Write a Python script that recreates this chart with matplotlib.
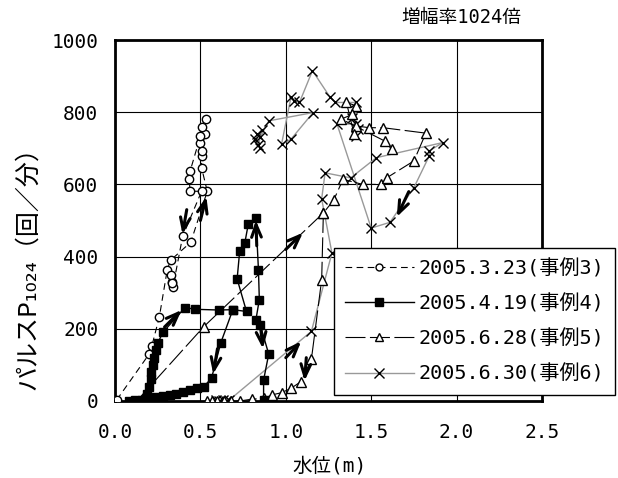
import matplotlib
matplotlib.use("Agg")
import matplotlib.pyplot as plt
from matplotlib.lines import Line2D

plt.rcParams["font.family"] = ["DejaVu Sans Mono", "Noto Sans CJK JP", "DejaVu Sans"]

# --- 2005.3.23 (事例3) ---
c_x = [0.01, 0.20, 0.215, 0.26, 0.306, 0.326, 0.444, 0.54, 0.507, 0.507, 0.497,
       0.507, 0.526, 0.53, 0.51, 0.50, 0.44, 0.434, 0.44, 0.507, 0.396, 0.34,
       0.331, 0.326, 0.335]
c_y = [3, 130, 151, 234, 364, 390, 440, 581, 646, 679, 716,
       693, 739, 782, 760, 734, 637, 614, 581, 581, 456, 317,
       331, 350, 327]

# --- 2005.4.19 (事例4) ---
s1_x = [0.18, 0.19, 0.20, 0.21, 0.21, 0.22, 0.23, 0.24, 0.25, 0.28, 0.41, 0.47,
        0.61, 0.69, 0.62, 0.565, 0.52, 0.48, 0.44, 0.40, 0.36, 0.32, 0.28,
        0.24, 0.20, 0.16, 0.12, 0.08]
s1_y = [5, 20, 40, 60, 80, 100, 120, 140, 160, 190, 259, 254,
        252, 253, 162, 63, 40, 35, 30, 25, 20, 16, 13,
        10, 7, 4, 2, 0]
s2_x = [0.69, 0.77, 0.715, 0.73, 0.76, 0.78, 0.825, 0.84, 0.845, 0.825, 0.85,
        0.90, 0.87, 0.87]
s2_y = [253, 248, 338, 415, 438, 489, 507, 362, 281, 225, 211,
        130, 58, 4]

# --- 2005.6.28 (事例5) ---
t1_x = [0.127, 0.52, 1.22, 1.28, 1.335, 1.45, 1.56, 1.59, 1.75, 1.82, 1.57,
        1.49, 1.41, 1.40, 1.355, 1.41, 1.39, 1.325, 1.58, 1.62]
t1_y = [0, 206, 521, 556, 614, 600, 600, 618, 665, 742, 757,
        757, 762, 739, 827, 818, 794, 781, 720, 697]
t2_x = [1.22, 1.21, 1.15, 1.09, 1.03, 0.975, 0.92, 0.87, 0.80, 0.73, 0.68,
        0.64, 0.60, 0.57, 0.54]
t2_y = [521, 336, 116, 54, 35, 23, 17, 7, 5, 0, 0,
        0, 0, 0, 0]

# --- 2005.6.30 (事例6) ---
x_x = [0.59, 0.61, 0.63, 0.65, 0.67, 1.15, 1.27, 1.21, 1.23, 1.38, 1.53, 1.92,
       1.84, 1.84, 1.75, 1.61, 1.50, 1.30, 1.41, 1.39, 1.42, 1.41, 1.41, 1.29,
       1.26, 1.156, 1.08, 1.05, 1.03, 0.975, 1.03, 1.16, 0.90, 0.85, 0.83,
       0.84, 0.86, 0.82, 0.85]
x_y = [2, 0, 2, 0, 3, 193, 410, 560, 632, 618, 674, 716,
       693, 679, 591, 495, 479, 767, 767, 785, 753, 734, 827, 827,
       841, 915, 827, 831, 841, 711, 725, 799, 776, 730, 739,
       710, 750, 725, 700]

# direction arrows (tail -> head)
arrows = [
    ((0.42, 530), (0.395, 462)),
    ((0.50, 500), (0.535, 566)),
    ((0.29, 205), (0.39, 252)),
    ((0.83, 430), (0.825, 500)),
    ((0.85, 215), (0.866, 145)),
    ((0.60, 145), (0.575, 75)),
    ((1.00, 420), (1.10, 466)),
    ((1.00, 120), (1.09, 165)),
    ((1.12, 120), (1.11, 56)),
    ((1.72, 580), (1.65, 510)),
]

labels = ["2005.3.23(事例3)", "2005.4.19(事例4)", "2005.6.28(事例5)", "2005.6.30(事例6)"]

fig = plt.figure(figsize=(6.18, 4.78), dpi=100)
ax = fig.add_axes([115 / 618, 77 / 478, 427 / 618, 361 / 478])

ax.plot(c_x, c_y, color="black", lw=0.8, ls=(0, (6, 4)), marker="o", ms=6,
        mfc="white", mec="black", mew=1.0, zorder=4)
for xs, ys in [(s1_x, s1_y), (s2_x, s2_y)]:
    ax.plot(xs, ys, color="black", lw=1.0, marker="s", ms=6,
            mfc="black", mec="black", zorder=5)
for xs, ys in [(t1_x, t1_y), (t2_x, t2_y)]:
    ax.plot(xs, ys, color="black", lw=0.8, ls=(0, (18, 4)), marker="^", ms=7,
            mfc="white", mec="black", mew=1.0, zorder=3)
ax.plot(x_x, x_y, color="#999999", lw=1.0, marker="x", ms=7,
        mec="black", mew=1.0, zorder=2)

for tail, head in arrows:
    ax.annotate("", xy=head, xytext=tail,
                arrowprops=dict(arrowstyle="->,head_length=0.9,head_width=0.35",
                                lw=2.2, color="black", shrinkA=0, shrinkB=0),
                zorder=6)

ax.set_xlim(0, 2.5)
ax.set_ylim(0, 1000)
ax.set_xticks([0, 0.5, 1.0, 1.5, 2.0, 2.5])
ax.set_xticklabels(["0.0", "0.5", "1.0", "1.5", "2.0", "2.5"])
ax.set_yticks([0, 200, 400, 600, 800, 1000])
ax.tick_params(length=0, labelsize=14)
ax.tick_params(axis="x", pad=16)
ax.tick_params(axis="y", pad=12)
ax.grid(True, color="black", lw=0.8)
ax.set_axisbelow(True)
for sp in ax.spines.values():
    sp.set_linewidth(2.0)

handles = [
    Line2D([], [], color="black", lw=0.8, ls=(0, (6, 4)), marker="o", ms=5,
           mfc="white", mec="black"),
    Line2D([], [], color="black", lw=1.0, marker="s", ms=6, mfc="black", mec="black"),
    Line2D([], [], color="black", lw=0.8, ls=(0, (18, 4)), marker="^", ms=6,
           mfc="white", mec="black"),
    Line2D([], [], color="#999999", lw=1.0, marker="x", ms=7, mec="black"),
]
fig.legend(handles, labels, loc="upper left", bbox_to_anchor=(334 / 618, 1 - 248 / 478),
           fontsize=14.5, frameon=True, fancybox=False, edgecolor="black",
           framealpha=1, handlelength=3.4, labelspacing=0.78, borderpad=0.55,
           handletextpad=0.25, borderaxespad=0)

fig.text(461 / 618, 1 - 18 / 478, "増幅率1024倍", fontsize=13.5, ha="center", va="center")
fig.text(330 / 618, 1 - 466 / 478, "水位(m)", fontsize=14, ha="center", va="center")
fig.text(28 / 618, 1 - 262 / 478, "パルスP₁₀₂₄（回／分）", fontsize=18, rotation=90,
         ha="center", va="center", family=["Noto Sans CJK JP", "DejaVu Sans"])

fig.savefig("out.png", dpi=100)
